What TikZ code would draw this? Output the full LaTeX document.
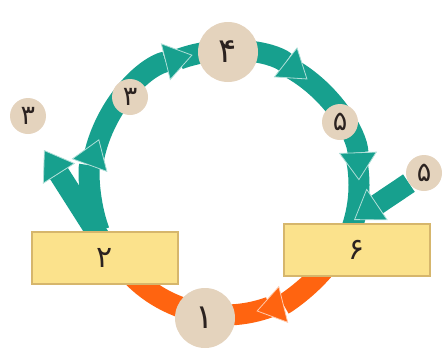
\documentclass[tikz,border=0pt]{standalone}
\usepackage{fontspec}
\usetikzlibrary{arrows.meta,backgrounds}
\newfontfamily\arabicfont[Script=Arabic]{DejaVu Sans}

\definecolor{bandteal}{HTML}{17A08E}
\definecolor{bandorange}{HTML}{FF6410}
\definecolor{discfill}{HTML}{E4D3BD}
\definecolor{boxfill}{HTML}{FBE28C}
\definecolor{boxline}{HTML}{D6B66C}
\definecolor{digitc}{HTML}{2B2220}

\tikzset{
  stage/.style={circle, fill=discfill, inner sep=0pt, text=digitc},
  bigstage/.style={stage, minimum size=60pt, font=\arabicfont\fontsize{34}{34}\selectfont},
  smallstage/.style={stage, minimum size=36pt, font=\arabicfont\fontsize{27}{27}\selectfont},
  organ/.style={rectangle, fill=boxfill, draw=boxline, line width=1.2pt,
    minimum width=146pt, minimum height=52pt, inner sep=0pt, text=digitc,
    font=\arabicfont\fontsize{30}{30}\selectfont},
  tealband/.style={draw=bandteal, line width=21pt},
  orangeband/.style={draw=bandorange, line width=21pt},
  tealhead/.style={-{Triangle[width=38pt,length=28pt,color=bandteal!35!white,fill=bandteal,line width=0.8pt]}},
  orangehead/.style={-{Triangle[width=38pt,length=28pt,color=bandorange!35!white,fill=bandorange,line width=0.8pt]}}
}

\begin{document}
\begin{tikzpicture}[x=1pt,y=-1pt]
\useasboundingbox (0,0) rectangle (446,349);

\node[bigstage] (c4) at (228,52) {۴};
\node[bigstage] (c1) at (205,318) {۱};
\node[smallstage] (c3a) at (130,97) {۳};
\node[smallstage] (c3b) at (28,116) {۳};
\node[smallstage] (c5a) at (340,122) {۵};
\node[smallstage] (c5b) at (424,173) {۵};
\node[organ] (box2) at (105,258) {۲};
\node[organ] (box6) at (357,250) {۶};

\coordinate (O) at (225,185);
\coordinate (lbase) at (100,238);
\coordinate (ltip) at (44,150);
\coordinate (rtip) at (354,220);

\begin{scope}[on background layer]
  % bottom, orange
  \draw[orangeband] (O) ++(98:130) arc[start angle=98, end angle=140, radius=130];
  \draw[orangeband] (O) ++(70:130) arc[start angle=70, end angle=100, radius=130];
  \draw[orangeband, orangehead] (O) ++(38:130) arc[start angle=38, end angle=76, radius=130];
  % right side, teal
  \draw[tealband] (O) ++(350:134) arc[start angle=350, end angle=382, radius=134];
  \draw[tealband, tealhead] (c5b) -- (rtip);
  \draw[tealband, tealhead] (O) ++(300:134) arc[start angle=300, end angle=358, radius=134];
  \draw[tealband, tealhead] (O) ++(250:134) arc[start angle=250, end angle=308, radius=134];
  % left side, teal
  \draw[tealband, tealhead] (O) ++(190:134) arc[start angle=190, end angle=256, radius=134];
  \draw[tealband, tealhead] (lbase) -- (ltip);
  \draw[tealband, tealhead] (O) ++(160:134) arc[start angle=160, end angle=200, radius=134];
\end{scope}
\end{tikzpicture}
\end{document}
